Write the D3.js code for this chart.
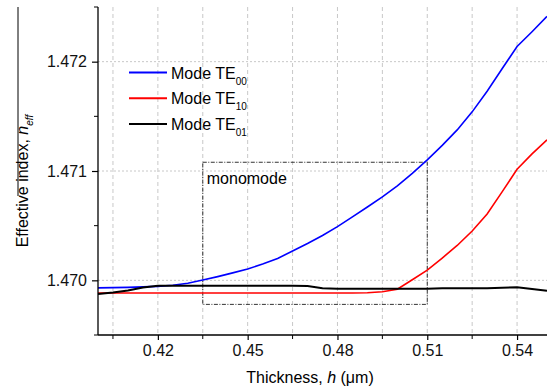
<!DOCTYPE html>
<html>
<head>
<meta charset="utf-8">
<script src="https://cdn.jsdelivr.net/npm/d3@7/dist/d3.min.js"></script>
<style>
  body { margin: 0; background: #fff; }
  svg { display: block; font-family: "Liberation Sans", Arial, sans-serif; }
</style>
</head>
<body>
<div id="chart"></div>
<script>
// thickness h (um), every 0.005
const thickness = d3.range(31).map(i => +(0.40 + i * 0.005).toFixed(3));

const te00 = [1.469931, 1.469933, 1.469936, 1.469940, 1.469945, 1.469955, 1.469973, 1.470003,
  1.470034, 1.470068, 1.470103, 1.470149, 1.470200, 1.470268, 1.470337, 1.470410, 1.470491,
  1.470580, 1.470671, 1.470763, 1.470864, 1.470978, 1.471102, 1.471234, 1.471376, 1.471541,
  1.471729, 1.471935, 1.472139, 1.472274, 1.472414];

const te10 = [1.469884, 1.469884, 1.469884, 1.469884, 1.469884, 1.469884, 1.469884, 1.469884,
  1.469884, 1.469884, 1.469884, 1.469884, 1.469884, 1.469884, 1.469884, 1.469884, 1.469884,
  1.469884, 1.469886, 1.469895, 1.469918, 1.470005, 1.470094, 1.470204, 1.470319, 1.470451,
  1.470607, 1.470809, 1.471016, 1.471157, 1.471285];

const te01 = [1.469875, 1.469888, 1.469907, 1.469934, 1.469950, 1.469950, 1.469950, 1.469950,
  1.469950, 1.469950, 1.469950, 1.469950, 1.469950, 1.469950, 1.469948, 1.469927, 1.469923,
  1.469924, 1.469924, 1.469924, 1.469924, 1.469924, 1.469924, 1.469928, 1.469928, 1.469928,
  1.469928, 1.469933, 1.469936, 1.469920, 1.469905];

const seriesNames = ["00", "10", "01"];
const seriesColors = ["#0000ff", "#ff0000", "#000000"];
const xTicks = [0.42, 0.45, 0.48, 0.51, 0.54];
const xMinorTicks = [0.405, 0.435, 0.465, 0.495, 0.525];
const yTicks = [1.470, 1.471, 1.472];
const yMinorTicks = [1.4695, 1.4705, 1.4715, 1.4725];
const monoBox = { x0: 0.435, x1: 0.51, y0: 1.46978, y1: 1.47108 };

const width = 547, height = 388;
const margin = { left: 98, right: 0, top: 7, bottom: 53 };

const svg = d3.select("#chart").append("svg")
  .attr("width", width)
  .attr("height", height);

const x = d3.scaleLinear().domain([0.40, 0.55]).range([margin.left, width - margin.right]);
const y = d3.scaleLinear().domain([1.4695, 1.4725]).range([height - margin.bottom, margin.top]);

// grid
svg.append("g")
  .selectAll("line")
  .data(xTicks.concat(xMinorTicks))
  .join("line")
  .attr("x1", d => x(d)).attr("x2", d => x(d))
  .attr("y1", y(1.4725)).attr("y2", y(1.4695))
  .attr("stroke", "#c8c8c8")
  .attr("stroke-dasharray", "4,3");

svg.append("g")
  .selectAll("line")
  .data(yTicks)
  .join("line")
  .attr("x1", x(0.40)).attr("x2", x(0.55))
  .attr("y1", d => y(d)).attr("y2", d => y(d))
  .attr("stroke", "#c8c8c8")
  .attr("stroke-dasharray", "2,2");

// monomode box
svg.append("rect")
  .attr("x", x(monoBox.x0))
  .attr("y", y(monoBox.y1))
  .attr("width", x(monoBox.x1) - x(monoBox.x0))
  .attr("height", y(monoBox.y0) - y(monoBox.y1))
  .attr("fill", "none")
  .attr("stroke", "#333")
  .attr("stroke-width", 1)
  .attr("stroke-dasharray", "4,1.5,1,1.5");

svg.append("text")
  .attr("x", x(monoBox.x0) + 4)
  .attr("y", y(monoBox.y1) + 22)
  .attr("font-size", 16)
  .text("monomode");

// curves
const line = d3.line()
  .x((d, i) => x(thickness[i]))
  .y(d => y(d));

[te00, te10, te01].forEach((s, k) => {
  svg.append("path")
    .datum(s)
    .attr("fill", "none")
    .attr("stroke", seriesColors[k])
    .attr("stroke-width", k === 2 ? 2 : 1.6)
    .attr("d", line);
});

// axes
const xAxis = svg.append("g")
  .attr("transform", `translate(0,${height - margin.bottom})`)
  .call(d3.axisBottom(x).tickValues(xTicks).tickSize(5).tickPadding(5).tickFormat(d3.format(".2f")));
xAxis.append("g").selectAll("line")
  .data(xMinorTicks).join("line")
  .attr("x1", d => x(d)).attr("x2", d => x(d))
  .attr("y1", 0).attr("y2", 4)
  .attr("stroke", "#000");

const yAxis = svg.append("g")
  .attr("transform", `translate(${margin.left},0)`)
  .call(d3.axisLeft(y).tickValues(yTicks).tickSize(6).tickPadding(5).tickFormat(d3.format(".3f")));
yAxis.append("g").selectAll("line")
  .data(yMinorTicks).join("line")
  .attr("x1", -4).attr("x2", 0)
  .attr("y1", d => y(d)).attr("y2", d => y(d))
  .attr("stroke", "#000");

[xAxis, yAxis].forEach(a => {
  a.select(".domain").attr("stroke", "#000").attr("stroke-width", 1.3);
  a.selectAll(".tick line").attr("stroke", "#000").attr("stroke-width", 1.2);
  a.selectAll(".tick text").attr("font-size", 16).attr("font-family", "Liberation Sans, Arial, sans-serif").attr("fill", "#111");
});
xAxis.select(".domain").attr("d", `M${x(0.40)},0H${x(0.55)}`);
yAxis.select(".domain").attr("d", `M0,${y(1.4725)}V${y(1.4695)}`);

// axis titles
const xt = svg.append("text")
  .attr("x", 310)
  .attr("y", 383)
  .attr("text-anchor", "middle")
  .attr("font-size", 16);
xt.append("tspan").text("Thickness, ");
xt.append("tspan").attr("font-style", "italic").text("h");
xt.append("tspan").text(" (\u03bcm)");

const yt = svg.append("text")
  .attr("transform", "translate(28,181) rotate(-90)")
  .attr("text-anchor", "middle")
  .attr("font-size", 16);
yt.append("tspan").text("Effective index, ");
yt.append("tspan").attr("font-style", "italic").text("n");
yt.append("tspan").attr("font-style", "italic").attr("font-size", 10).attr("dy", 5).text("eff");

// stray overline beside the y title
svg.append("line")
  .attr("x1", 18).attr("x2", 18)
  .attr("y1", 7).attr("y2", 196)
  .attr("stroke", "#000")
  .attr("stroke-width", 1);

// legend
const legend = svg.append("g");
seriesNames.forEach((name, k) => {
  const ly = 72.5 + k * 25.8;
  legend.append("line")
    .attr("x1", 129).attr("x2", 167)
    .attr("y1", ly).attr("y2", ly)
    .attr("stroke", seriesColors[k])
    .attr("stroke-width", 2);
  const t = legend.append("text")
    .attr("x", 171)
    .attr("y", ly + 6)
    .attr("font-size", 16);
  t.append("tspan").text("Mode TE");
  t.append("tspan").attr("font-size", 10).attr("dy", 6).text(name);
});
</script>
</body>
</html>
